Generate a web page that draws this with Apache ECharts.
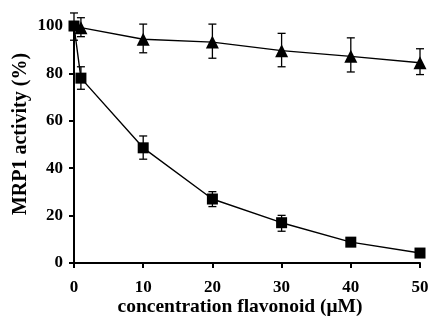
<!DOCTYPE html>
<html><head><meta charset="utf-8">
<script src="https://cdn.jsdelivr.net/npm/echarts@6/dist/echarts.min.js"></script>
<style>html,body{margin:0;padding:0;background:#fff}#c{width:431px;height:320px}</style>
</head><body><div id="c"></div>
<script>
// concentration (µM)
const xSquares = [0, 1, 10, 20, 30, 40, 50];
const ySquares = [100, 78, 48.6, 27, 17, 8.8, 4.2];
const errLowSquares = [94, 73.3, 43.8, 23.8, 13.4, 7.6, 3.0];
const errHighSquares = [105.5, 82.8, 53.6, 30.1, 20.1, 10.0, 5.4];

const xTriangles = [1, 10, 20, 30, 40, 50];
const yTriangles = [99.3, 94.4, 93.2, 89.6, 87.2, 84.5];
const errLowTriangles = [95.5, 88.7, 86.4, 82.8, 80.6, 79.5];
const errHighTriangles = [103.5, 100.8, 100.8, 96.9, 95.0, 90.4];

const xTicks = [0, 10, 20, 30, 40, 50];
const yTicks = [0, 20, 40, 60, 80, 100];
const xTitle = 'concentration flavonoid (\u03bcM)';
const yTitle = 'MRP1 activity (%)';

const font = 'Liberation Serif';
const chart = echarts.init(document.getElementById('c'));

function pairs(xs, ys){ return xs.map((x,i)=>[x, ys[i]]); }
function errData(xs, lo, hi){ return xs.map((x,i)=>[x, lo[i], hi[i]]); }

function errRender(params, api){
  const x = api.value(0);
  const lo = api.coord([x, api.value(1)]);
  const hi = api.coord([x, api.value(2)]);
  const w = 4;
  const style = {stroke:'#000', lineWidth:1.3};
  return {type:'group', children:[
    {type:'line', shape:{x1:lo[0], y1:lo[1], x2:hi[0], y2:hi[1]}, style},
    {type:'line', shape:{x1:lo[0]-w, y1:lo[1], x2:lo[0]+w, y2:lo[1]}, style},
    {type:'line', shape:{x1:hi[0]-w, y1:hi[1], x2:hi[0]+w, y2:hi[1]}, style}
  ]};
}

chart.setOption({
  animation:false,
  grid:{left:74, right:11, top:26, bottom:57, containLabel:false, outerBoundsMode:'none'},
  graphic:[
    {type:'text', position:[240,307], style:{text:xTitle, x:0, y:0, fontFamily:font, fontWeight:'bold', fontSize:19.5, fill:'#000', align:'center', verticalAlign:'middle'}},
    {type:'text', position:[21,134], rotation:Math.PI/2, style:{text:yTitle, x:0, y:0, fontFamily:font, fontWeight:'bold', fontSize:20, fill:'#000', align:'center', verticalAlign:'middle'}}
  ],
  xAxis:{type:'value', min:0, max:50, interval:10,
    axisLine:{lineStyle:{color:'#000', width:2}},
    axisTick:{show:true, length:5, lineStyle:{color:'#000', width:2}},
    axisLabel:{fontFamily:font, fontWeight:'bold', fontSize:17, color:'#000', margin:16,
      formatter:v=>xTicks.includes(v)?String(v):''},
    splitLine:{show:false}},
  yAxis:{type:'value', min:0, max:100, interval:20,
    axisLine:{show:true, lineStyle:{color:'#000', width:2}},
    axisTick:{show:true, length:5, lineStyle:{color:'#000', width:2}},
    axisLabel:{fontFamily:font, fontWeight:'bold', fontSize:17, color:'#000', margin:11,
      formatter:v=>yTicks.includes(v)?String(v):''},
    splitLine:{show:false}},
  series:[
    {type:'custom', renderItem:errRender, data:errData(xSquares, errLowSquares, errHighSquares), clip:false, z:1},
    {type:'custom', renderItem:errRender, data:errData(xTriangles, errLowTriangles, errHighTriangles), clip:false, z:1},
    {type:'line', data:pairs(xSquares, ySquares), symbol:'rect', symbolSize:11,
      itemStyle:{color:'#000'}, lineStyle:{color:'#000', width:1.4}, z:3},
    {type:'line', data:pairs(xTriangles, yTriangles), symbol:'triangle', symbolSize:13,
      itemStyle:{color:'#000'}, lineStyle:{color:'#000', width:1.4}, z:3}
  ]
});
</script></body></html>
